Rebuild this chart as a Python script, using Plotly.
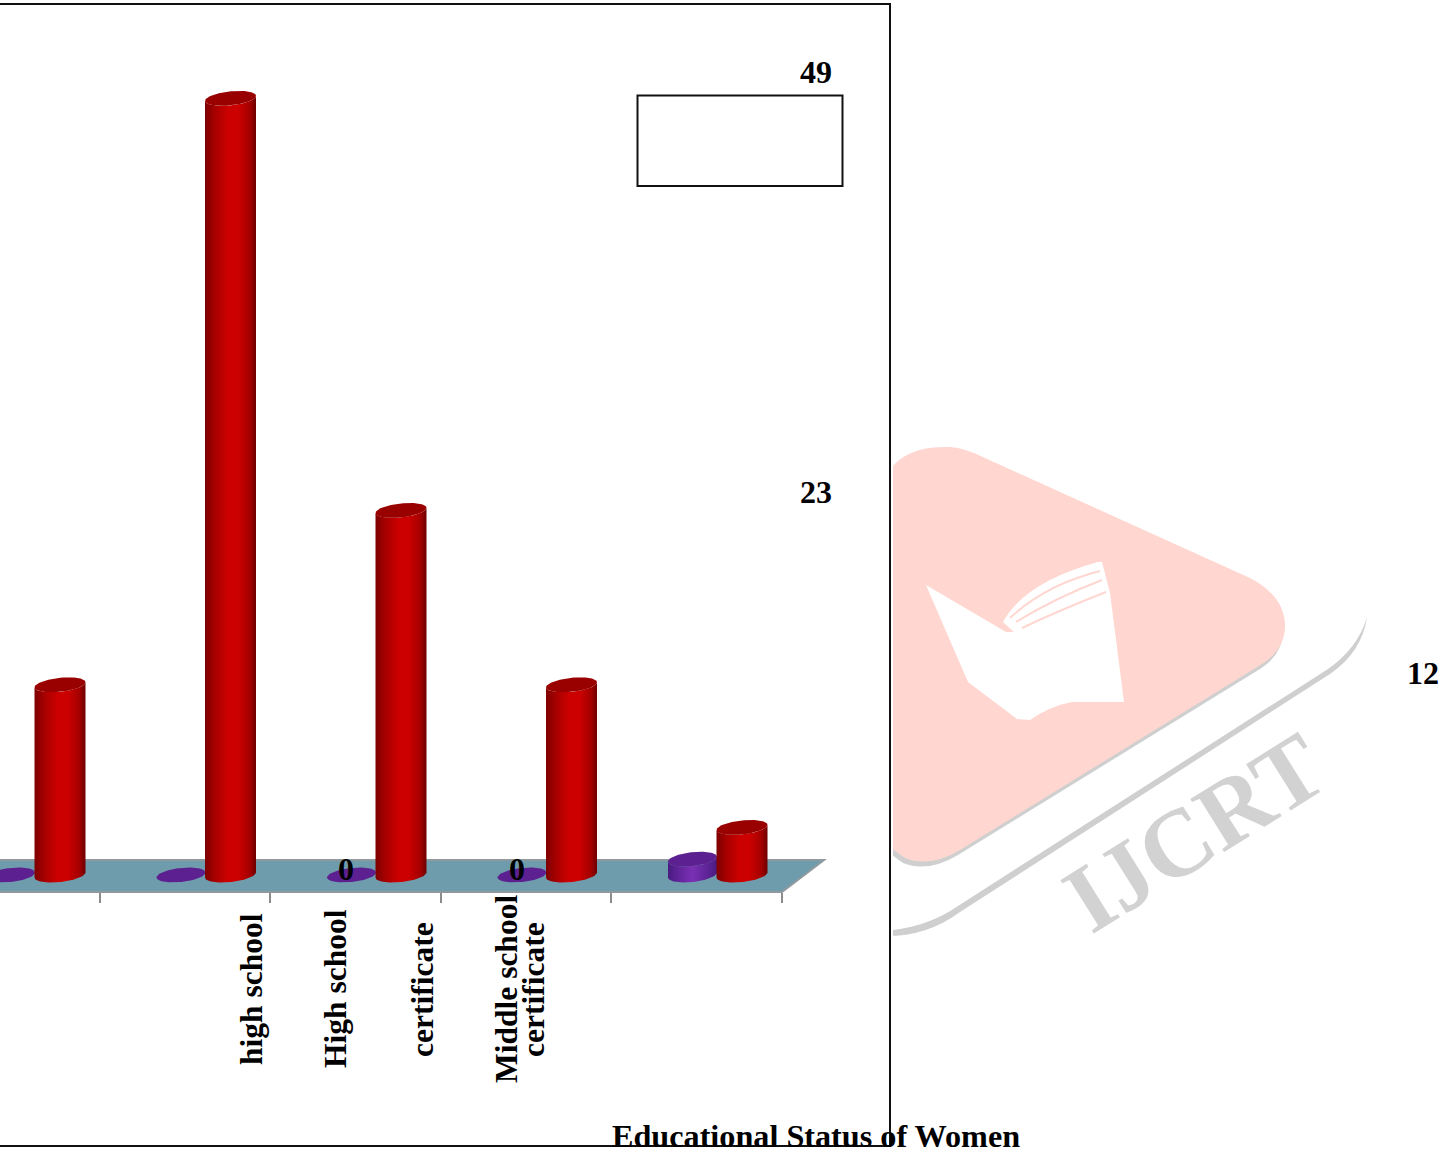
import numpy as np
import plotly.graph_objects as go

# Chart data
categories = ["", "high school", "High school", "certificate", "Middle school", "certificate"]
red_values = [12, 49, 23, 12, 3]
purple_values = [0, 0, 0, 0, 1]
value_labels = ["49", "23", "12", "0", "0"]
chart_title = "Educational Status of Women"
watermark_text = "IJCRT"

# Page and axis geometry
W, H = 1454, 1154
GROUP_PX = 170.5
UNIT_PX = 15.85
GROUP0_PX = 14.5
BASE_PX = 875
SERIF = "Liberation Serif"


def fx(px):
    return px / W


def fy(py):
    return 1 - py / H


def path(points, close=True):
    # points are page pixels, turned into paper fractions for a shape path
    parts = []
    for seg in points:
        cmd, coords = seg[0], seg[1:]
        vals = []
        for i in range(0, len(coords), 2):
            vals.append(f"{fx(coords[i]):.5f},{fy(coords[i + 1]):.5f}")
        parts.append(cmd + " " + " ".join(vals))
    return " ".join(parts) + (" Z" if close else "")


def ellipse(k, dx_px, value, half_px, b_px, tilt, t):
    px = half_px * np.cos(t)
    up = tilt * px + b_px * np.sin(t)
    return k + (dx_px + px) / GROUP_PX, value + up / UNIT_PX


def cylinder(fig, k, dx_px, value, half_px, body_scale, cap_color):
    tilt, b_px = 0.1, 7.0
    t = np.linspace(0, 2 * np.pi, 90)
    if value > 0:
        front = np.linspace(np.pi, 2 * np.pi, 50)
        xb, yb = ellipse(k, dx_px, 0, half_px, b_px, tilt, front)
        xt, yt = ellipse(k, dx_px, value, half_px, b_px, tilt, front[::-1])
        fig.add_trace(go.Scatter(
            x=np.r_[xb, xt], y=np.r_[yb, yt], mode="lines", fill="toself",
            line=dict(width=0), fillcolor=body_scale[2][1],
            fillgradient=dict(type="horizontal", colorscale=body_scale),
            hoverinfo="skip", showlegend=False))
    xc, yc = ellipse(k, dx_px, value, half_px, b_px, tilt, t)
    fig.add_trace(go.Scatter(
        x=xc, y=yc, mode="lines", fill="toself", line=dict(width=0),
        fillcolor=cap_color, hoverinfo="skip", showlegend=False))


RED_SCALE = [[0, "#7d0000"], [0.2, "#a80000"], [0.45, "#cc0000"],
             [0.65, "#cc0000"], [0.88, "#a40000"], [1, "#6e0000"]]
PURPLE_SCALE = [[0, "#4a1a80"], [0.2, "#5f2498"], [0.5, "#7a30b4"],
                [0.8, "#5f2498"], [1, "#4a1a80"]]

fig = go.Figure()

# Purple series first so the red cylinders overlap it
for k, v in enumerate(purple_values):
    cylinder(fig, k, -4, v, 24.5, PURPLE_SCALE, "#5c2090")
for k, v in enumerate(red_values):
    cylinder(fig, k, 45.5, v, 25.5, RED_SCALE, "#990000")

shapes = []

# Publisher mark behind the chart frame
triangle = [("M", 880, 500), ("Q", 885, 445, 950, 447), ("Q", 965, 448, 985, 458),
            ("L", 1250, 578), ("Q", 1286, 597, 1285, 628), ("Q", 1284, 650, 1262, 664),
            ("L", 960, 850), ("Q", 930, 868, 905, 858), ("L", 880, 840)]
shadow = [(s[0], *[c + (5 if i % 2 else -2) for i, c in enumerate(s[1:])]) for s in triangle]
shapes.append(dict(type="path", xref="paper", yref="paper", path=path(shadow),
                   fillcolor="#cfcfcf", line=dict(width=0), layer="below"))
shapes.append(dict(type="path", xref="paper", yref="paper", path=path(triangle),
                   fillcolor="#ffd7d0", line=dict(width=0), layer="below"))
book = [("M", 926, 585), ("L", 1006, 632), ("L", 1014, 632), ("L", 1003, 622),
        ("Q", 1025, 582, 1098, 562), ("L", 1102, 562), ("L", 1110, 593), ("L", 1124, 702),
        ("L", 1072, 702), ("Q", 1050, 706, 1030, 720), ("L", 1017, 719), ("L", 968, 682)]
shapes.append(dict(type="path", xref="paper", yref="paper", path=path(book),
                   fillcolor="#ffffff", line=dict(width=0), layer="below"))
for a, b, c in [((1010, 618), (1045, 585), (1100, 571)),
                ((1016, 622), (1055, 598), (1102, 580)),
                ((1022, 628), (1060, 610), (1106, 592))]:
    shapes.append(dict(type="path", xref="paper", yref="paper",
                       path=path([("M", *a), ("Q", *b, *c)], close=False),
                       line=dict(color="#ffd7d0", width=2), layer="below"))
swoosh = [("M", 880, 936), ("Q", 925, 938, 960, 912), ("L", 1330, 674),
          ("Q", 1362, 652, 1367, 617), ("Q", 1358, 648, 1328, 669), ("L", 958, 906),
          ("Q", 925, 929, 880, 931)]
shapes.append(dict(type="path", xref="paper", yref="paper", path=path(swoosh),
                   fillcolor="#cfcfcf", line=dict(width=0), layer="below"))

# White strip that separates the mark from the frame
shapes.append(dict(type="rect", xref="paper", yref="paper",
                   x0=fx(880), x1=fx(893), y0=fy(1000), y1=fy(400),
                   fillcolor="#ffffff", line=dict(width=0), layer="below"))

# White chart area with its frame, the left side runs off the page
shapes.append(dict(type="rect", xref="paper", yref="paper",
                   x0=fx(-10), x1=fx(890), y0=fy(1146), y1=fy(4),
                   fillcolor="#ffffff", line=dict(color="#111111", width=2), layer="below"))

# Teal floor of the 3D plot, in axis units
floor_k = lambda px: (px - GROUP0_PX) / GROUP_PX
floor_v = lambda py: (BASE_PX - py) / UNIT_PX
shapes.append(dict(
    type="path", xref="x", yref="y", layer="below",
    path=(f"M {floor_k(-20):.4f},{floor_v(892):.4f} L {floor_k(782):.4f},{floor_v(892):.4f} "
          f"L {floor_k(824):.4f},{floor_v(860):.4f} L {floor_k(-20):.4f},{floor_v(860):.4f} Z"),
    fillcolor="#6f9cad", line=dict(color="#8f9a9e", width=2)))

# Empty legend box
shapes.append(dict(type="rect", xref="paper", yref="paper",
                   x0=fx(637.5), x1=fx(842.5), y0=fy(186), y1=fy(95.5),
                   fillcolor="#ffffff", line=dict(color="#111111", width=2)))


def label(text, px, py, size=32, angle=0, color="#000000"):
    return dict(text=f"<b>{text}</b>", xref="paper", yref="paper", x=fx(px), y=fy(py),
                xanchor="center", yanchor="middle", showarrow=False, textangle=angle,
                font=dict(family=SERIF, size=size, color=color))


annotations = []
for text, (px, py) in zip(value_labels, [(815.5, 72), (815.5, 492), (1423, 673),
                                         (346, 869), (517, 869)]):
    annotations.append(label(text, px, py))
for text, (px, py) in zip(categories[1:], [(251, 989), (335, 989), (422, 990),
                                           (506, 989), (533, 990)]):
    annotations.append(label(text, px, py, size=31.5, angle=-90))
annotations.append(label(chart_title, 815.5, 1136, size=32.2))
annotations.append(label(watermark_text, 1194, 832, size=96, angle=-32, color="#d2d2d2"))

fig.update_layout(
    width=W, height=H, margin=dict(l=0, r=0, t=0, b=0),
    paper_bgcolor="#ffffff", plot_bgcolor="rgba(0,0,0,0)",
    shapes=shapes, annotations=annotations, showlegend=False,
    xaxis=dict(range=[(0 - GROUP0_PX) / GROUP_PX, (W - GROUP0_PX) / GROUP_PX],
               tickmode="array", tickvals=[0.5, 1.5, 2.5, 3.5, 4.5],
               ticktext=["", "", "", "", ""], ticks="outside", ticklen=10, tickwidth=2,
               tickcolor="#8c8c8c", showgrid=False, zeroline=False, showline=False,
               anchor="free", position=fy(892)),
    yaxis=dict(range=[(BASE_PX - H) / UNIT_PX, BASE_PX / UNIT_PX], visible=False,
               showgrid=False, zeroline=False),
)

fig.write_html("out.html", config=dict(displayModeBar=False))
